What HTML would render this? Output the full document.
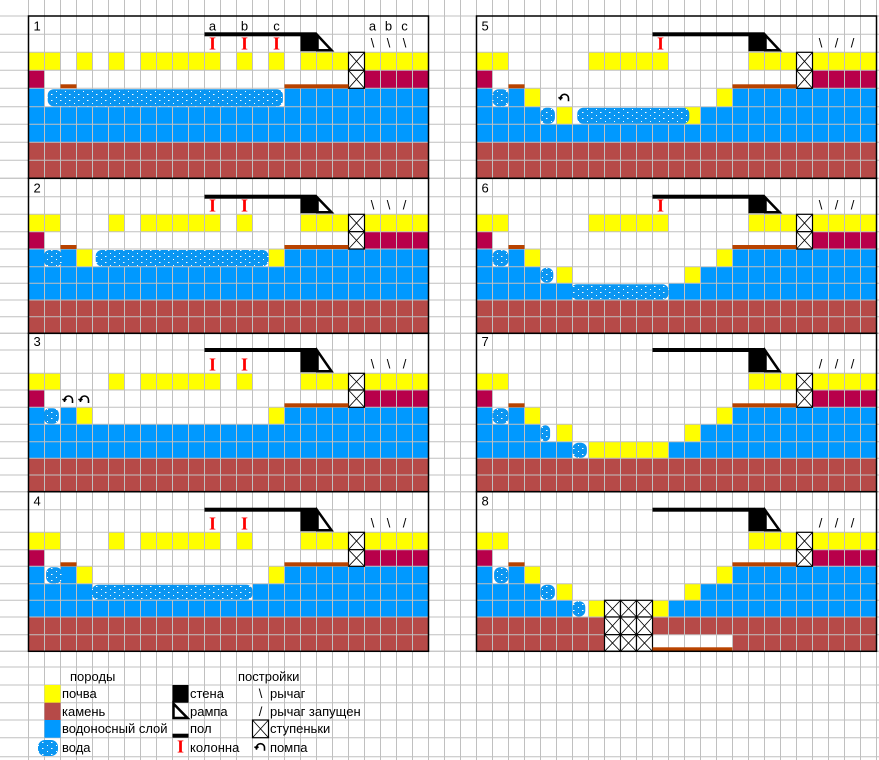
<!DOCTYPE html>
<html><head><meta charset="utf-8"><style>
html,body{margin:0;padding:0;background:#fff}
svg{display:block;font-family:"Liberation Sans",sans-serif}
</style></head><body>
<svg id="s" width="879" height="760" viewBox="0 0 879 760" xmlns="http://www.w3.org/2000/svg">
<defs>
<pattern id="wat" width="9" height="6" patternUnits="userSpaceOnUse">
<rect width="9" height="6" fill="#0a96f2"/>
<rect x="2" y="1" width="1" height="1" fill="#fff"/>
<rect x="6" y="4" width="1.5" height="1" fill="#fff"/>
</pattern>
</defs>
<rect width="879" height="760" fill="#fff"/>
</svg>
<script>
const bands = [
 [16,34.3,52.3,70.3,88.3,106.7,124.3,142.3,160.3,178.3],
 [178.3,196.7,214.3,231.7,249,266.7,283.3,300,316.7,333.3],
 [333.3,350,373.3,390,407.3,424.3,441.7,458.3,475,491.7],
 [491.7,509.7,532.3,549.7,566.3,583.7,600.3,617,634.7,651.3]
];
const legendRows = [651.3,667,685,702.7,720,737.7,756.7];
const W25="WWWWWWWWWWWWWWWWWWWWWWWWW", B25="BBBBBBBBBBBBBBBBBBBBBBBBB", R25="RRRRRRRRRRRRRRRRRRRRRRRRR";
const r3="CWWWWWWWWWWWWWWWWWWWXCCCC";
const r4="BWBYWWWWWWWWWWWYBBBBBBBBB";
const r5s="BBBBWYWWWWWWWYBBBBBBBBBBB";
const panelCells = [
 [W25,W25,"YYWYWYWYYYYYWYWYWYYYXYYYY",r3,"BWWWWWWWWWWWWWWWBBBBBBBBB",B25,B25,R25,R25],
 [W25,W25,"YYWWWYWYYYYYWYWWWYYYXYYYY",r3,r4,B25,B25,R25,R25],
 [W25,W25,"YYWWWYWYYYYYWYWWWYYYXYYYY",r3,r4,B25,B25,R25,R25],
 [W25,W25,"YYWWWYWYYYYYWYWWWYYYXYYYY",r3,r4,"BBBBWWWWWWWWWWBBBBBBBBBBB",B25,R25,R25],
 [W25,W25,"YYWWWWWYYYYYWWWWWYYYXYYYY",r3,r4,r5s,B25,R25,R25],
 [W25,W25,"YYWWWWWYYYYYWWWWWYYYXYYYY",r3,r4,r5s,"BBBBBBWWWWWWBBBBBBBBBBBBB",R25,R25],
 [W25,W25,"YYWWWWWWWWWWWWWWWYYYXYYYY",r3,r4,r5s,"BBBBBBWYYYYYBBBBBBBBBBBBB",R25,R25],
 [W25,W25,"YYWWWWWWWWWWWWWWWYYYXYYYY",r3,r4,r5s,"BBBBBBWYXXXYBBBBBBBBBBBBB","RRRRRRRRXXXRRRRRRRRRRRRRR","RRRRRRRRXXXWWWWWRRRRRRRRR"]
];
const panelColumns = [[11,13,15],[11,13],[11,13],[11,13],[11],[11],[],[]];
const panelLevers = ["\\\\\\","\\\\/","\\\\/","\\\\/","\\//","\\//","///","///"];
const panelPumps = [[],[],[[3,2],[3,3]],[],[[4,5]],[],[],[]];
const panelWater = [
 [[4,1.2,15.9]],
 [[4,0.95,2.1],[4,4.2,15]],
 [[4,0.95,1.9]],
 [[4,1.1,2.1],[5,3.97,14]],
 [[4,1.0,2.0],[5,4.0,4.9],[5,6.3,13.3]],
 [[4,1.0,2.0],[5,4.0,4.8],[6,5.9,12]],
 [[4,1.0,2.0],[5,4.0,4.6],[6,6.0,6.9]],
 [[4,1.1,2.0],[5,4.0,4.9],[6,6.0,6.8]]
];
const panelLeftFloor = [true,true,false,true,true,true,true,true];
const colors = {Y:"#ffff00",C:"#b8004a",R:"#b64a48",B:"#0099ff",W:"#ffffff",X:"#ffffff"};

const svg=document.getElementById('s');
const NS="http://www.w3.org/2000/svg";
function mk(tag,attrs,parent){const e=document.createElementNS(NS,tag);for(const k in attrs)e.setAttribute(k,attrs[k]);(parent||svg).appendChild(e);return e;}
function pxL(c){return 28.5+16*c;}
function pxR(c){return 476.5+16*c;}

const gFill=mk('g',{});


panelCells.forEach((rows,p)=>{
 const band=bands[p%4], px=p<4?pxL:pxR;
 rows.forEach((s,r)=>{for(let c=0;c<25;c++){const ch=s[c];if(ch==='W'||ch==='X')continue;
  const e=mk('rect',{x:px(c),y:band[r],width:16,height:band[r+1]-band[r],fill:colors[ch]},gFill);
  
  }});
});

const gGrid=mk('g',{stroke:"#c0c0c0","stroke-width":1});


for(let k=0;k<=54;k++){mk('line',{x1:pxL(k),x2:pxL(k),y1:0,y2:760},gGrid);}
const hy=[-2];bands.forEach(b=>b.forEach(v=>hy.push(v)));legendRows.forEach(v=>hy.push(v));
hy.forEach(y=>mk('line',{x1:0,x2:879,y1:y,y2:y},gGrid));

panelWater.forEach((list,p)=>{
 const band=bands[p%4], px=p<4?pxL:pxR;
 list.forEach(w=>{const x0=px(w[1]),x1=px(w[2]);const y0=band[w[0]]+1,y1=band[w[0]+1]-0.5;
  const e=mk('rect',{x:x0,y:y0,width:x1-x0,height:y1-y0,rx:Math.min(6,(x1-x0)/2),fill:"url(#wat)"});
  
  });
});

function stepsCell(x,y,h,parent){
 const g=mk('g',{},parent);
 
 
 mk('rect',{x:x,y:y,width:16,height:h,fill:"#fff",stroke:"#000","stroke-width":1.2},g);
 mk('line',{x1:x,y1:y,x2:x+16,y2:y+h,stroke:"#000","stroke-width":0.8},g);
 mk('line',{x1:x+16,y1:y,x2:x,y2:y+h,stroke:"#000","stroke-width":0.8},g);
}
function pumpIcon(cx,cy,parent){
 const e=mk('path',{d:`M${cx-4},${cy+4} v-2 a4,4 0 0 1 8,0 v3 M${cx-6},${cy+1} l2,1.5 l2,-1.5`,fill:"none",stroke:"#000","stroke-width":1.6},parent);
 
 
}
function columnIcon(cx,by,parent){
 const e=mk('text',{x:cx,y:by,"text-anchor":"middle","font-family":"Liberation Serif, serif","font-weight":"bold","font-size":18,fill:"#ff0000"},parent);
 e.textContent="I";
 
 
}

panelCells.forEach((rows,p)=>{
 const band=bands[p%4], px=p<4?pxL:pxR;
 const g=mk('g',{});
 
 
 rows.forEach((s,r)=>{for(let c=0;c<25;c++)if(s[c]==='X')stepsCell(px(c),band[r],band[r+1]-band[r],g);});
 const f4=band[4];
 if(panelLeftFloor[p]){const e=mk('rect',{x:px(2),y:f4-4,width:16,height:4,fill:"#b84300"},g);}
 const fl=mk('rect',{x:px(16),y:f4-4,width:64,height:4,fill:"#b84300"},g);
 
 
 if(p===7){const e=mk('rect',{x:px(11),y:band[9]-4,width:80,height:4,fill:"#b84300"},g);}
 const t1=band[1],b1=band[2];
 const roof=mk('rect',{x:px(11),y:t1-2,width:112,height:4,fill:"#000"},g);
 
 
 const wall=mk('rect',{x:px(17),y:t1,width:16,height:b1-t1-1,fill:"#000"},g);
 
 
 const ramp=mk('polygon',{points:`${px(18)+1},${t1+1} ${px(18)+1},${b1-2} ${px(19)-1},${b1-2}`,fill:"#fff",stroke:"#000","stroke-width":2.5},g);
 
 
 panelColumns[p].forEach(c=>columnIcon(px(c)+8,b1-3,g));
 [...panelLevers[p]].forEach((ch,i)=>{const e=mk('text',{x:px(21+i)+8,y:b1-5,"text-anchor":"middle","font-size":13,fill:"#000"},g);e.textContent=ch;});
 panelPumps[p].forEach(q=>pumpIcon(px(q[1])+8,band[q[0]]+8,g));
 const lbl=mk('text',{x:px(0)+5,y:band[1]-4,"font-size":13,fill:"#000"},g);
 lbl.textContent=String(p+1);
 
 
 if(p===0){
  [[11,'a'],[13,'b'],[15,'c'],[21,'a'],[22,'b'],[23,'c']].forEach(q=>{const e=mk('text',{x:px(q[0])+8,y:band[1]-4,"text-anchor":"middle","font-size":13,fill:"#000"},g);e.textContent=q[1];});
 }
 const border=mk('rect',{x:px(0),y:band[0],width:400,height:band[9]-band[0],fill:"none",stroke:"#000","stroke-width":1.5},g);
 
 
});

const lg=mk('g',{});


function ltext(x,y,t,name){const e=mk('text',{x:x,y:y,"font-size":13,fill:"#000"},lg);e.textContent=t;return e;}
const L=legendRows;
ltext(70,681,"породы","legend-title-rocks");
ltext(238,681,"постройки","legend-title-buildings");
function sw(r,fill,name){const e=mk('rect',{x:pxL(1),y:L[r],width:16,height:L[r+1]-L[r],fill:fill},lg);}
sw(2,"#ffff00","legend-soil-swatch");ltext(62,698,"почва","legend-soil");
sw(3,"#b64a48","legend-stone-swatch");ltext(62,716,"камень","legend-stone");
sw(4,"#0099ff","legend-aquifer-swatch");ltext(62,733,"водоносный слой","legend-aquifer");
const wb=mk('rect',{x:38,y:740,width:20,height:16,rx:7,fill:"url(#wat)"},lg);


ltext(62,752,"вода","legend-water");
const ws=mk('rect',{x:pxL(9),y:L[2],width:16,height:L[3]-L[2],fill:"#000"},lg);


ltext(190,698,"стена","legend-wall");
const rp=mk('polygon',{points:`${pxL(9)+1},${L[3]+1} ${pxL(9)+1},${L[4]-2} ${pxL(10)-1},${L[4]-2}`,fill:"#fff",stroke:"#000","stroke-width":2.5},lg);


ltext(190,716,"рампа","legend-ramp");
const fs=mk('rect',{x:pxL(9),y:L[5]-4,width:16,height:4,fill:"#000"},lg);


ltext(190,733,"пол","legend-floor");
columnIcon(pxL(9)+8,L[6]-4,lg);
ltext(190,752,"колонна","legend-column");
const lv1=mk('text',{x:pxL(14)+8,y:698,"text-anchor":"middle","font-size":13,fill:"#000"},lg);
lv1.textContent="\\";


ltext(270,698,"рычаг","legend-lever");
const lv2=mk('text',{x:pxL(14)+8,y:716,"text-anchor":"middle","font-size":13,fill:"#000"},lg);
lv2.textContent="/";


ltext(270,716,"рычаг запущен","legend-lever-on");
stepsCell(pxL(14),L[4],L[5]-L[4],lg);
ltext(270,733,"ступеньки","legend-steps");
pumpIcon(pxL(14)+8,L[5]+8,lg);
ltext(270,752,"помпа","legend-pump");
</script>
</body></html>
